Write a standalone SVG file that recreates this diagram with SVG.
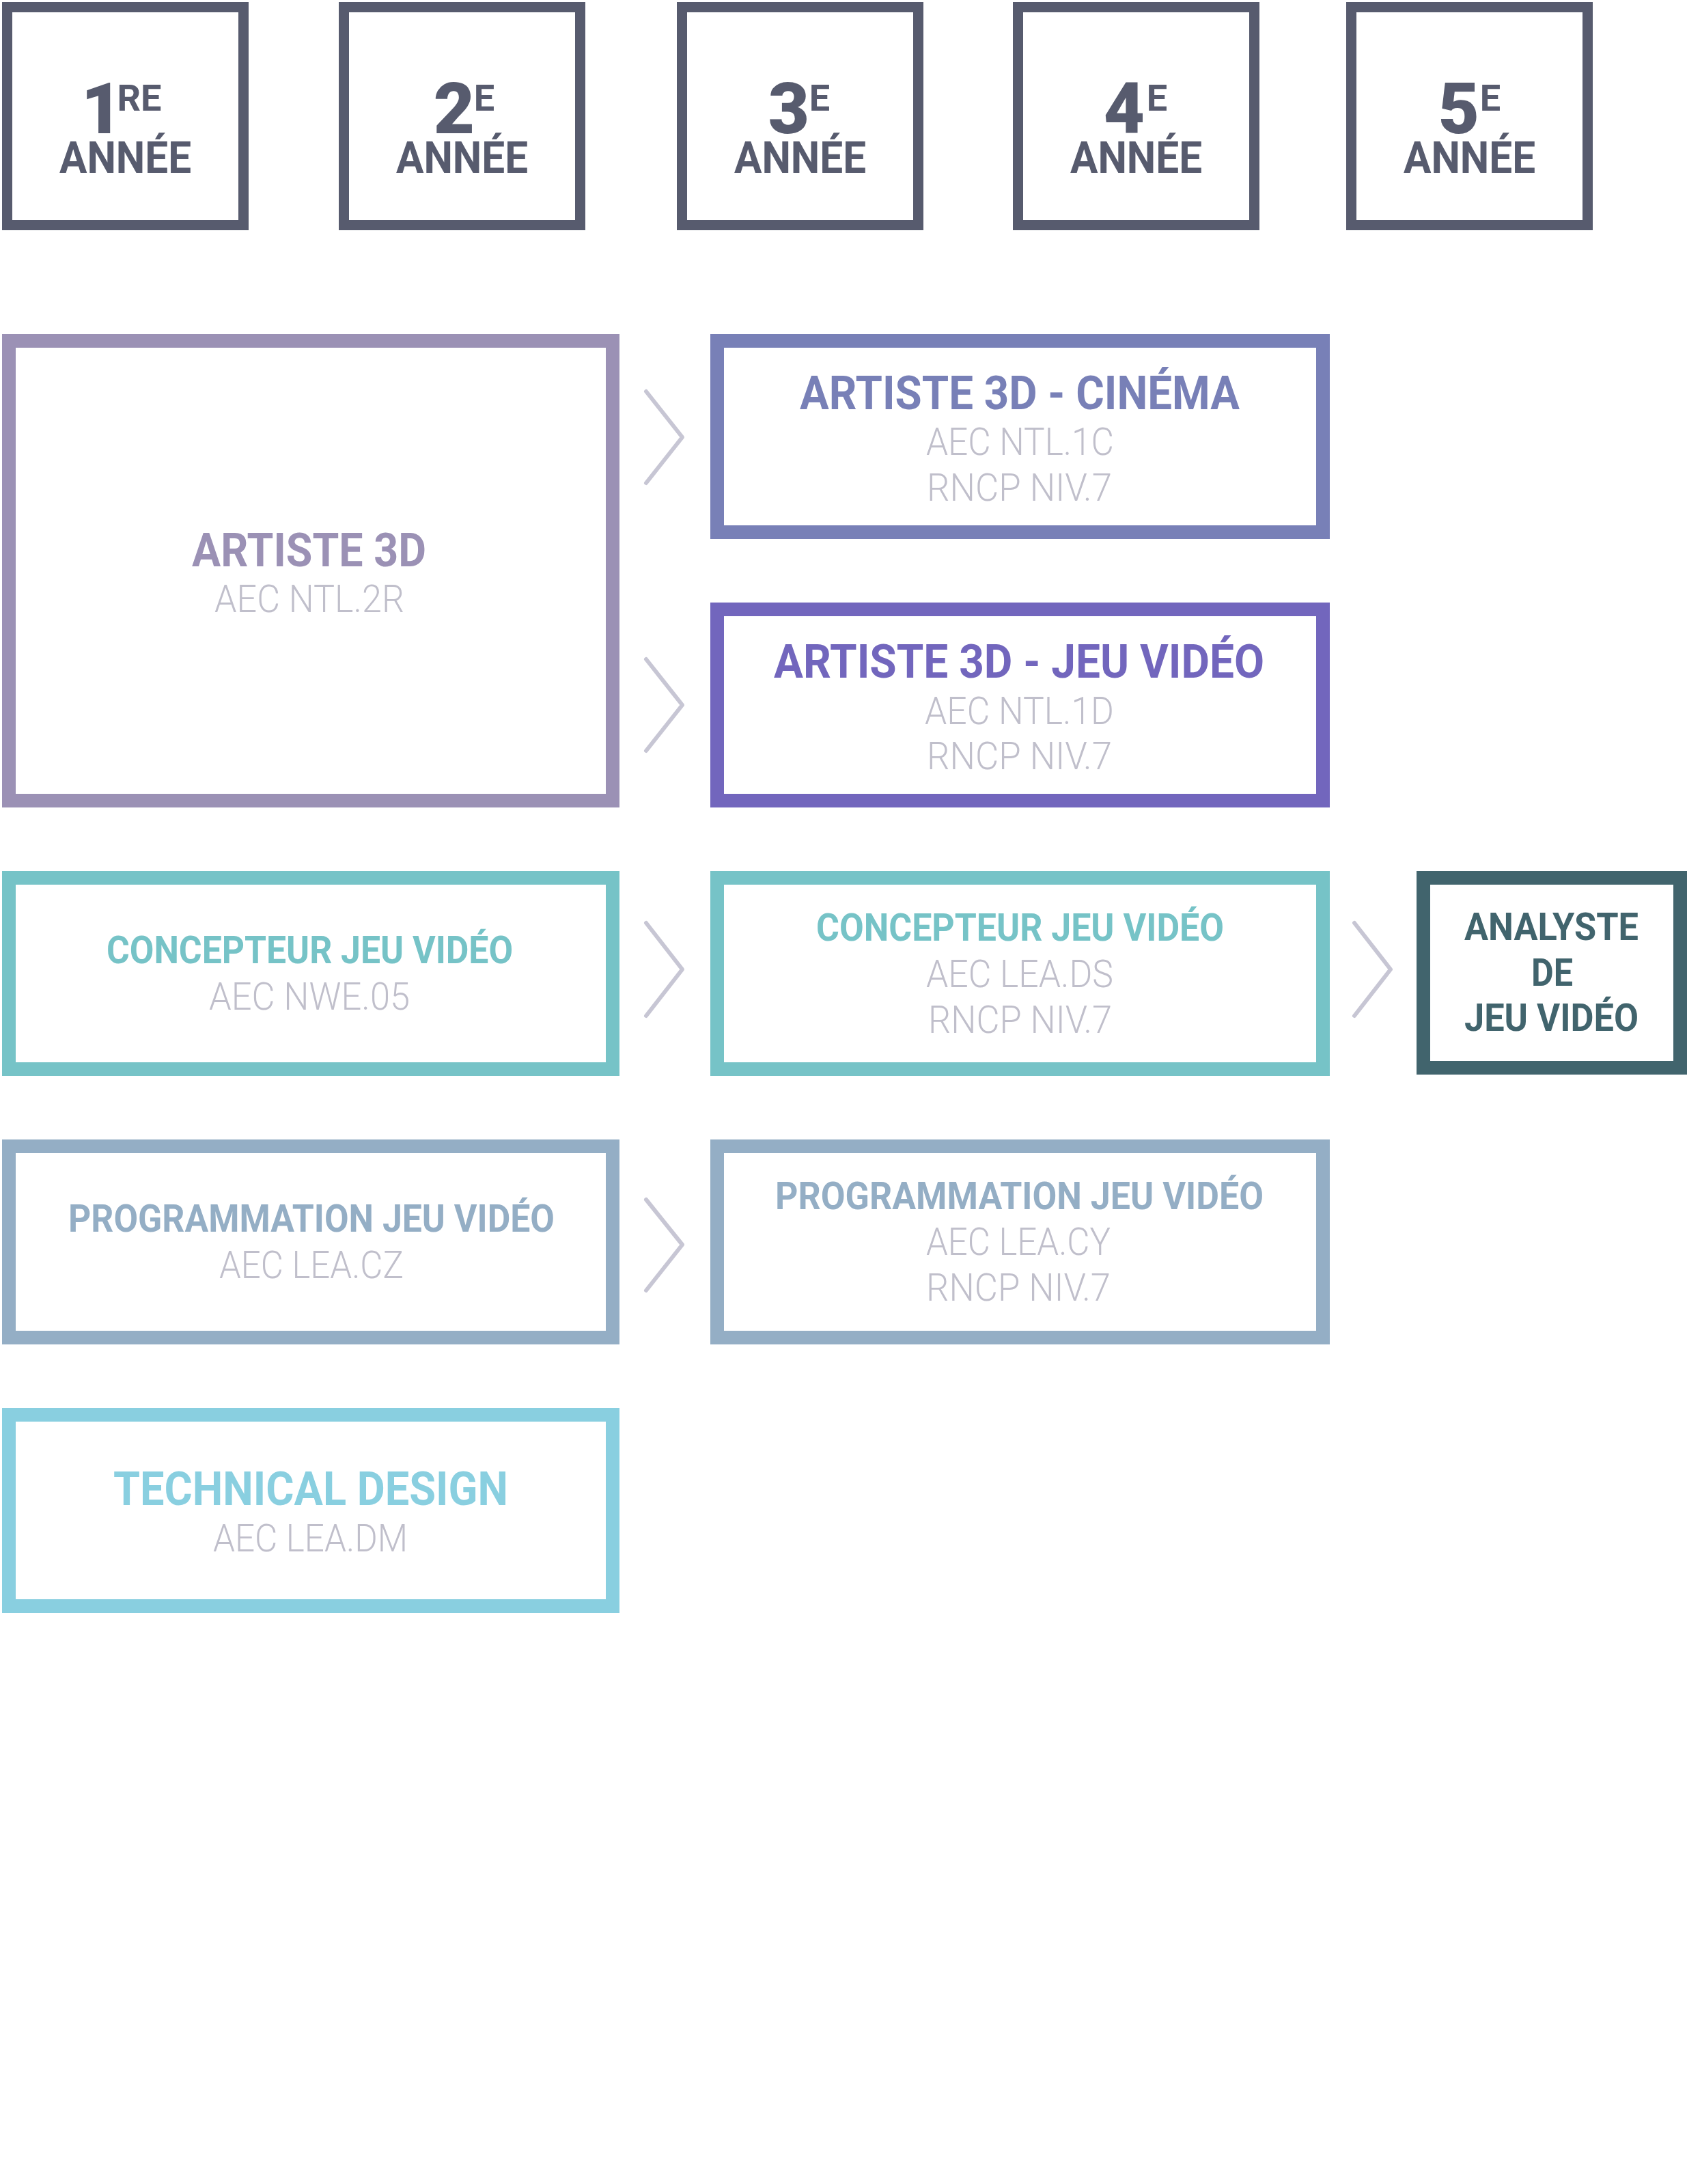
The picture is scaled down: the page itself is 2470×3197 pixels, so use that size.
<svg xmlns="http://www.w3.org/2000/svg" width="2470" height="3197" viewBox="0 0 2470 3197">
<style>
.yr{fill:none;stroke:#575B6E;stroke-width:15}
.bx{fill:none;stroke-width:20}
.b{font-family:Roboto,"Liberation Sans",sans-serif;font-weight:700}
.yt{fill:#575B6E}
.s{font-family:Roboto,"Liberation Sans",sans-serif;font-weight:300;fill:#C0BFCB;font-size:56px}
.chev{fill:none;stroke:#C7C6D4;stroke-width:6;stroke-linecap:round;stroke-linejoin:round}
.num{font-size:104px;font-weight:900;text-anchor:middle}
.sup{font-size:54px;text-anchor:middle}
.an{font-size:64px}
.tl{font-size:68px}
.tm{font-size:56px}
</style>
<rect width="2470" height="3197" fill="#FFFFFF"/>
<g id="year1">
<rect class="yr" x="10.5" y="10.5" width="346" height="319"/>
<text class="b yt num" x="149" y="195">1</text>
<text class="b yt sup" x="204" y="162">RE</text>
<text class="b yt an" x="87" y="253" textLength="193" lengthAdjust="spacingAndGlyphs">ANNÉE</text>
</g>
<g id="year2">
<rect class="yr" x="503.5" y="10.5" width="346" height="319"/>
<text class="b yt num" x="665" y="195">2</text>
<text class="b yt sup" x="709" y="162">E</text>
<text class="b yt an" x="580" y="253" textLength="193" lengthAdjust="spacingAndGlyphs">ANNÉE</text>
</g>
<g id="year3">
<rect class="yr" x="998.5" y="10.5" width="346" height="319"/>
<text class="b yt num" x="1155" y="195">3</text>
<text class="b yt sup" x="1200" y="162">E</text>
<text class="b yt an" x="1075" y="253" textLength="193" lengthAdjust="spacingAndGlyphs">ANNÉE</text>
</g>
<g id="year4">
<rect class="yr" x="1490.5" y="10.5" width="346" height="319"/>
<text class="b yt num" x="1646" y="195">4</text>
<text class="b yt sup" x="1694" y="162">E</text>
<text class="b yt an" x="1567" y="253" textLength="193" lengthAdjust="spacingAndGlyphs">ANNÉE</text>
</g>
<g id="year5">
<rect class="yr" x="1978.5" y="10.5" width="346" height="319"/>
<text class="b yt num" x="2136" y="195">5</text>
<text class="b yt sup" x="2182" y="162">E</text>
<text class="b yt an" x="2055" y="253" textLength="193" lengthAdjust="spacingAndGlyphs">ANNÉE</text>
</g>
<g id="artiste3d">
<rect class="bx" x="13" y="499" width="884" height="673" stroke="#9B91B5"/>
<text class="b tl" x="281" y="829" fill="#9B91B5" textLength="343" lengthAdjust="spacingAndGlyphs">ARTISTE 3D</text>
<text class="s" x="314" y="896" textLength="278" lengthAdjust="spacingAndGlyphs">AEC NTL.2R</text>
</g>
<g id="artiste3d-cinema">
<rect class="bx" x="1050" y="499" width="887" height="280" stroke="#7880B7"/>
<text class="b tl" x="1171" y="599" fill="#7880B7" textLength="644" lengthAdjust="spacingAndGlyphs">ARTISTE 3D - CINÉMA</text>
<text class="s" x="1356" y="666" textLength="275" lengthAdjust="spacingAndGlyphs">AEC NTL.1C</text>
<text class="s" x="1357" y="733" textLength="271" lengthAdjust="spacingAndGlyphs">RNCP NIV.7</text>
</g>
<g id="artiste3d-jeu">
<rect class="bx" x="1050" y="892" width="887" height="280" stroke="#7266BD"/>
<text class="b tl" x="1133" y="992" fill="#7266BD" textLength="718" lengthAdjust="spacingAndGlyphs">ARTISTE 3D - JEU VIDÉO</text>
<text class="s" x="1354" y="1060" textLength="277" lengthAdjust="spacingAndGlyphs">AEC NTL.1D</text>
<text class="s" x="1357" y="1126" textLength="271" lengthAdjust="spacingAndGlyphs">RNCP NIV.7</text>
</g>
<g id="concepteur-1">
<rect class="bx" x="13" y="1285" width="884" height="280" stroke="#76C3C7"/>
<text class="b tm" x="156" y="1410" fill="#76C3C7" textLength="595" lengthAdjust="spacingAndGlyphs">CONCEPTEUR JEU VIDÉO</text>
<text class="s" x="306" y="1478" textLength="294" lengthAdjust="spacingAndGlyphs">AEC NWE.05</text>
</g>
<g id="concepteur-2">
<rect class="bx" x="1050" y="1285" width="887" height="280" stroke="#76C3C7"/>
<text class="b tm" x="1195" y="1377" fill="#76C3C7" textLength="597" lengthAdjust="spacingAndGlyphs">CONCEPTEUR JEU VIDÉO</text>
<text class="s" x="1356" y="1445" textLength="274" lengthAdjust="spacingAndGlyphs">AEC LEA.DS</text>
<text class="s" x="1359" y="1512" textLength="269" lengthAdjust="spacingAndGlyphs">RNCP NIV.7</text>
</g>
<g id="analyste">
<rect class="bx" x="2084" y="1285" width="376" height="278" stroke="#41646D"/>
<text class="b tm" x="2144" y="1376" fill="#41646D" textLength="255" lengthAdjust="spacingAndGlyphs">ANALYSTE</text>
<text class="b tm" x="2242" y="1443" fill="#41646D" textLength="61" lengthAdjust="spacingAndGlyphs">DE</text>
<text class="b tm" x="2144" y="1509" fill="#41646D" textLength="255" lengthAdjust="spacingAndGlyphs">JEU VIDÉO</text>
</g>
<g id="programmation-1">
<rect class="bx" x="13" y="1678" width="884" height="280" stroke="#94AEC5"/>
<text class="b tm" x="100" y="1803" fill="#94AEC5" textLength="712" lengthAdjust="spacingAndGlyphs">PROGRAMMATION JEU VIDÉO</text>
<text class="s" x="321" y="1871" textLength="270" lengthAdjust="spacingAndGlyphs">AEC LEA.CZ</text>
</g>
<g id="programmation-2">
<rect class="bx" x="1050" y="1678" width="887" height="280" stroke="#94AEC5"/>
<text class="b tm" x="1135" y="1770" fill="#94AEC5" textLength="715" lengthAdjust="spacingAndGlyphs">PROGRAMMATION JEU VIDÉO</text>
<text class="s" x="1356" y="1837" textLength="270" lengthAdjust="spacingAndGlyphs">AEC LEA.CY</text>
<text class="s" x="1356" y="1904" textLength="270" lengthAdjust="spacingAndGlyphs">RNCP NIV.7</text>
</g>
<g id="technical-design">
<rect class="bx" x="13" y="2071" width="884" height="280" stroke="#89CFE0"/>
<text class="b tl" x="166" y="2203" fill="#89CFE0" textLength="578" lengthAdjust="spacingAndGlyphs">TECHNICAL DESIGN</text>
<text class="s" x="312" y="2271" textLength="285" lengthAdjust="spacingAndGlyphs">AEC LEA.DM</text>
</g>
<g id="connectors">
<path class="chev" d="M946,573 L999,640 L946,707"/>
<path class="chev" d="M946,965 L999,1032 L946,1099"/>
<path class="chev" d="M946,1351 L999,1419 L946,1487"/>
<path class="chev" d="M1983,1351 L2036,1419 L1983,1487"/>
<path class="chev" d="M946,1756 L999,1822 L946,1889"/>
</g>
</svg>
